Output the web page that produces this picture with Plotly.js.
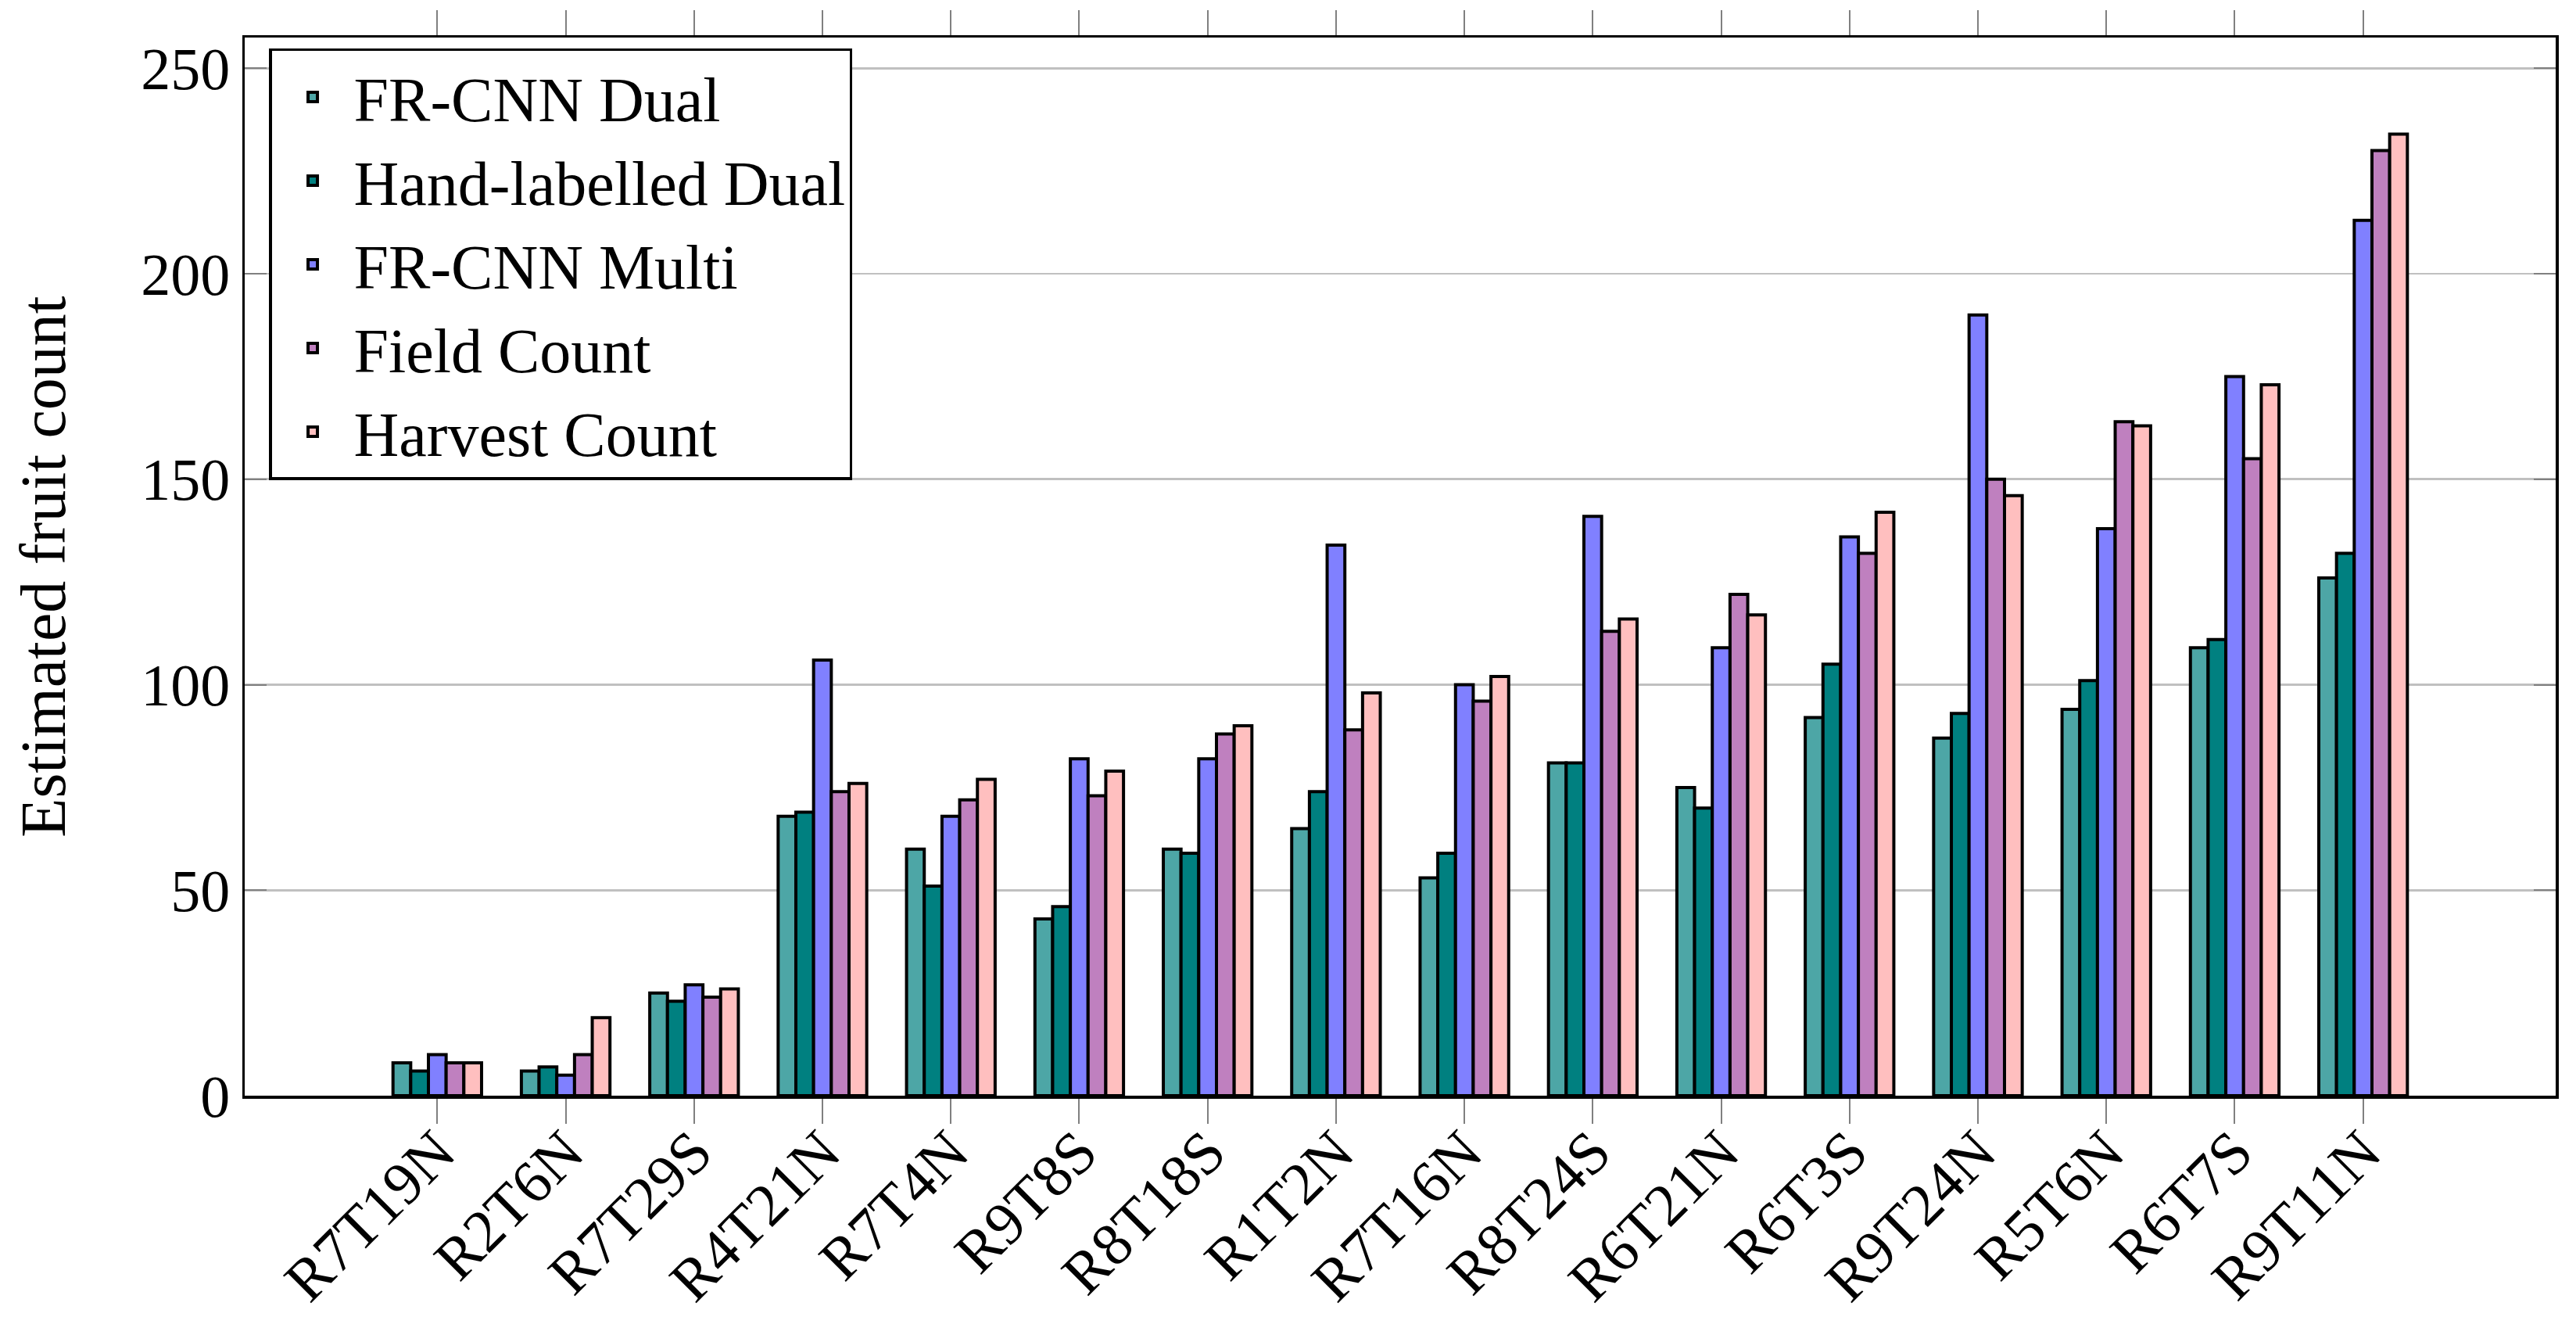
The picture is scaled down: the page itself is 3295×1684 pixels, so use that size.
<!DOCTYPE html>
<html>
<head>
<meta charset="utf-8">
<script src="https://cdn.plot.ly/plotly-3.0.1.min.js"></script>
<style>html,body{margin:0;padding:0;background:#fff;}</style>
</head>
<body>
<div id="chart" style="width:3295px;height:1684px;"></div>
<script>
const categories = ["R7T19N","R2T6N","R7T29S","R4T21N","R7T4N","R9T8S","R8T18S","R1T2N","R7T16N","R8T24S","R6T21N","R6T3S","R9T24N","R5T6N","R6T7S","R9T11N"];
const frcnnDual       = [8, 6, 25, 68, 60, 43, 60, 65, 53, 81, 75, 92, 87, 94, 109, 126];
const handLabelled    = [6, 7, 23, 69, 51, 46, 59, 74, 59, 81, 70, 105, 93, 101, 111, 132];
const frcnnMulti      = [10, 5, 27, 106, 68, 82, 82, 134, 100, 141, 109, 136, 190, 138, 175, 213];
const fieldCount      = [8, 10, 24, 74, 72, 73, 88, 89, 96, 113, 122, 132, 150, 164, 155, 230];
const harvestCount    = [8, 19, 26, 76, 77, 79, 90, 98, 102, 116, 117, 142, 146, 163, 173, 234];
const seriesNames  = ["FR-CNN Dual", "Hand-labelled Dual", "FR-CNN Multi", "Field Count", "Harvest Count"];
const seriesValues = [frcnnDual, handLabelled, frcnnMulti, fieldCount, harvestCount];
const seriesColors = ["#4DA6A6", "#008080", "#8080FF", "#BF80BF", "#FFBFBF"];
const yTickVals = [0, 50, 100, 150, 200, 250];

const FONT = "'Liberation Serif', 'Times New Roman', serif";

const traces = seriesNames.map((name, i) => ({
  type: "bar",
  name: name,
  x: categories,
  y: seriesValues[i],
  marker: { color: seriesColors[i], line: { color: "#000000", width: 4 } }
}));

const layout = {
  width: 3295,
  height: 1684,
  margin: { l: 313, r: 26, t: 48, b: 283, pad: 0 },
  paper_bgcolor: "#ffffff",
  plot_bgcolor: "#ffffff",
  font: { family: FONT, color: "#000000", size: 76 },
  barmode: "group",
  bargap: 0.31,
  bargroupgap: 0,
  showlegend: true,
  legend: {
    x: 0.0105, y: 0.9897, xanchor: "left", yanchor: "top",
    bgcolor: "#ffffff", bordercolor: "#000000", borderwidth: 3.5,
    font: { family: FONT, size: 80, color: "#000000" },
    tracegroupgap: 0,
    itemwidth: 95
  },
  xaxis: {
    type: "category",
    range: [-1.5, 16.5],
    showline: true, linecolor: "#000000", linewidth: 3.5, mirror: "ticks",
    ticks: "outside", ticklen: 32, tickwidth: 2, tickcolor: "#808080",
    tickangle: -45,
    ticklabelstandoff: -40,
    tickfont: { family: FONT, size: 77, color: "#000000" },
    showgrid: false, zeroline: false, automargin: false
  },
  yaxis: {
    range: [0, 257.5],
    tickvals: yTickVals,
    ticktext: yTickVals.map(String),
    showline: true, linecolor: "#000000", linewidth: 3.5, mirror: "ticks",
    ticks: "inside", ticklen: 28, tickwidth: 2, tickcolor: "#808080",
    showgrid: true, gridcolor: "#c0c0c0", gridwidth: 2.7,
    zeroline: false,
    automargin: true,
    tickfont: { family: FONT, size: 76, color: "#000000" },
    title: { text: "Estimated fruit count", standoff: 70, font: { family: FONT, size: 82, color: "#000000" } }
  }
};

Plotly.newPlot("chart", traces, layout, { displayModeBar: false, staticPlot: true });
</script>
</body>
</html>
